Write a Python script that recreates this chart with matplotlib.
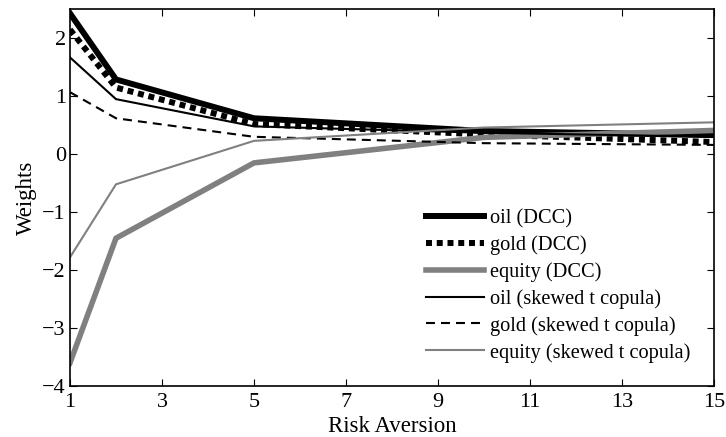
import matplotlib
matplotlib.use("Agg")
import matplotlib.pyplot as plt

plt.rcParams['font.family'] = ['Liberation Serif', 'DejaVu Serif']

risk_aversion = [1, 2, 5, 10, 15]
oil_dcc = [2.43, 1.29, 0.62, 0.40, 0.33]
gold_dcc = [2.15, 1.15, 0.52, 0.34, 0.21]
equity_dcc = [-3.6, -1.45, -0.15, 0.29, 0.41]
oil_skt = [1.67, 0.95, 0.48, 0.37, 0.30]
gold_skt = [1.07, 0.62, 0.30, 0.19, 0.16]
equity_skt = [-1.78, -0.52, 0.23, 0.46, 0.55]

x_ticks = [1, 3, 5, 7, 9, 11, 13, 15]
y_ticks = [-4, -3, -2, -1, 0, 1, 2]

fig = plt.figure(figsize=(7.26, 4.37), dpi=100)
ax = fig.add_axes([0.0964, 0.1167, 0.887, 0.862])

gray = '#808080'
ax.plot(risk_aversion, oil_dcc, color='black', lw=4.3, label='oil (DCC)')
ax.plot(risk_aversion, gold_dcc, color='black', lw=4.3, ls=(0, (1.0, 0.8)), label='gold (DCC)')
ax.plot(risk_aversion, equity_dcc, color=gray, lw=4.0, label='equity (DCC)')
ax.plot(risk_aversion, oil_skt, color='black', lw=1.5, label='oil (skewed t copula)')
ax.plot(risk_aversion, gold_skt, color='black', lw=1.5, ls=(0, (4.3, 2.9)), label='gold (skewed t copula)')
ax.plot(risk_aversion, equity_skt, color=gray, lw=1.5, label='equity (skewed t copula)')

ax.set_xlim(1, 15)
ax.set_ylim(-4, 2.5)
ax.set_xticks(x_ticks)
ax.set_yticks(y_ticks)
ax.set_yticklabels([str(v).replace('-', '\u2212') for v in y_ticks])
ax.tick_params(direction='in', top=True, right=True, labelsize=16, length=5, width=0.8)
ax.tick_params(axis='x', pad=5)
ax.tick_params(axis='y', pad=3)
for s in ax.spines.values():
    s.set_linewidth(1.2)

ax.set_xlabel('Risk Aversion', fontsize=16.5, labelpad=3)
ax.set_ylabel('Weights', fontsize=16.5, labelpad=4)

leg = ax.legend(loc='lower right', frameon=False, fontsize=14.7, handlelength=2.85,
                handletextpad=0.3, labelspacing=0.35, borderaxespad=0.75)

fig.savefig('out.png', dpi=100)
